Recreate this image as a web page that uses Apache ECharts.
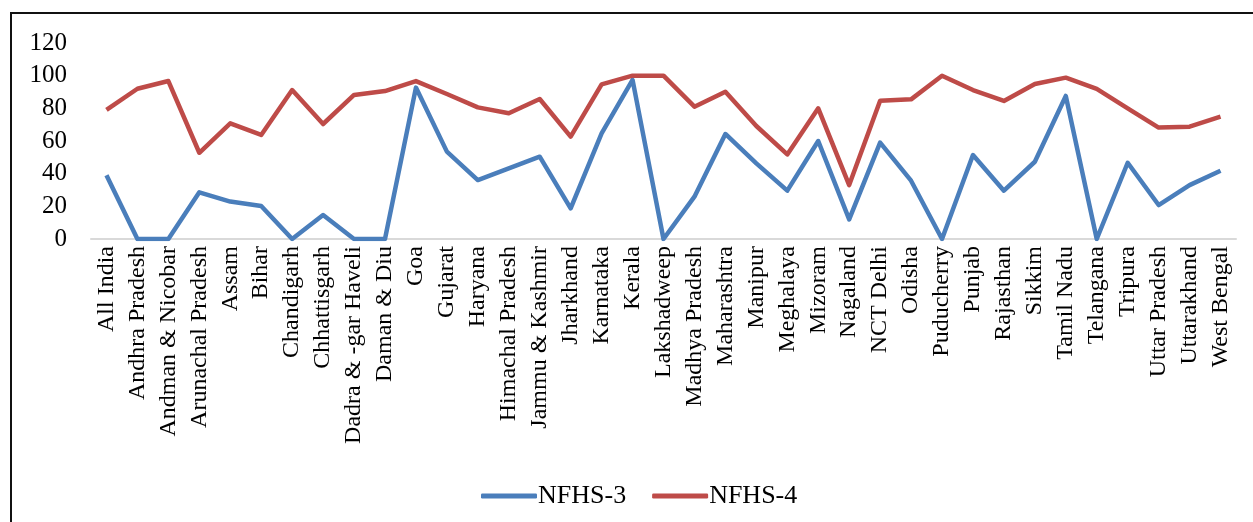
<!DOCTYPE html>
<html>
<head>
<meta charset="utf-8">
<script src="https://cdn.jsdelivr.net/npm/echarts@6/dist/echarts.min.js"></script>
<style>
  html, body { margin: 0; padding: 0; background: #fff; }
  #chart { width: 1253px; height: 522px; }
</style>
</head>
<body>
<div id="chart"></div>
<script>
// States and union territories along the category axis
const states = [
  'All India', 'Andhra Pradesh', 'Andman & Nicobar', 'Arunachal Pradesh', 'Assam', 'Bihar',
  'Chandigarh', 'Chhattisgarh', 'Dadra & -gar Haveli', 'Daman & Diu', 'Goa', 'Gujarat',
  'Haryana', 'Himachal Pradesh', 'Jammu & Kashmir', 'Jharkhand', 'Karnataka', 'Kerala',
  'Lakshadweep', 'Madhya Pradesh', 'Maharashtra', 'Manipur', 'Meghalaya', 'Mizoram',
  'Nagaland', 'NCT Delhi', 'Odisha', 'Puducherry', 'Punjab', 'Rajasthan', 'Sikkim',
  'Tamil Nadu', 'Telangana', 'Tripura', 'Uttar Pradesh', 'Uttarakhand', 'West Bengal'
];

// NFHS-3 survey values
const nfhs3 = [
  39, 0, 0, 28.6, 22.9, 20.2,
  0, 14.7, 0, 0, 92.7, 53.5,
  36.1, 43.3, 50.4, 18.8, 64.7, 97.4,
  0, 25.9, 64.3, 46.3, 29.6, 60,
  12, 59, 35.7, 0, 51.4, 29.6, 47.3,
  87.6, 0, 46.7, 20.8, 33, 41.8
];

// NFHS-4 survey values
const nfhs4 = [
  79, 92, 96.7, 52.8, 70.8, 63.7,
  91.2, 70.4, 88.2, 90.6, 96.7, 88.8,
  80.6, 77, 85.7, 62.7, 94.7, 100,
  100, 81, 90.2, 69.2, 51.8, 80,
  33, 84.7, 85.5, 100, 91.2, 84.5, 94.9,
  98.8, 91.9, 80, 68.2, 68.8, 74.9
];

// Value axis ticks
const yTicks = [0, 20, 40, 60, 80, 100, 120];

const serif = '"Liberation Serif", "Times New Roman", serif';

const chart = echarts.init(document.getElementById('chart'), null, { renderer: 'canvas' });

chart.setOption({
  backgroundColor: '#ffffff',
  animation: false,
  graphic: [{
    type: 'rect',
    silent: true,
    shape: { x: 11, y: 13, width: 1400, height: 700 },
    style: { fill: 'none', stroke: '#111111', lineWidth: 2 }
  }],
  grid: { left: 91, right: 17, top: 43, bottom: 283, containLabel: false },
  legend: {
    left: 476,
    top: 478,
    icon: 'roundRect',
    itemWidth: 56,
    itemHeight: 5,
    itemGap: 26,
    textStyle: { fontFamily: serif, fontSize: 26, color: '#000', padding: [0, 0, 0, -4] },
    data: ['NFHS-3', 'NFHS-4']
  },
  xAxis: {
    type: 'category',
    data: states,
    boundaryGap: true,
    axisLine: { lineStyle: { color: '#d9d9d9', width: 2 } },
    axisTick: { show: false },
    axisLabel: {
      rotate: 90,
      interval: 0,
      margin: 7,
      fontFamily: serif,
      fontSize: 24,
      color: '#000'
    }
  },
  yAxis: {
    type: 'value',
    min: yTicks[0],
    max: yTicks[yTicks.length - 1],
    interval: yTicks[1] - yTicks[0],
    axisLine: { show: false },
    axisTick: { show: false },
    splitLine: { show: false },
    axisLabel: {
      margin: 24,
      fontFamily: serif,
      fontSize: 25,
      color: '#000'
    }
  },
  series: [
    {
      name: 'NFHS-3',
      type: 'line',
      data: nfhs3,
      symbol: 'none',
      color: '#4a7ebb',
      lineStyle: { width: 4.5, color: '#4a7ebb', join: 'round' }
    },
    {
      name: 'NFHS-4',
      type: 'line',
      data: nfhs4,
      symbol: 'none',
      color: '#be4b48',
      lineStyle: { width: 4.5, color: '#be4b48', join: 'round' }
    }
  ]
});
</script>
</body>
</html>
